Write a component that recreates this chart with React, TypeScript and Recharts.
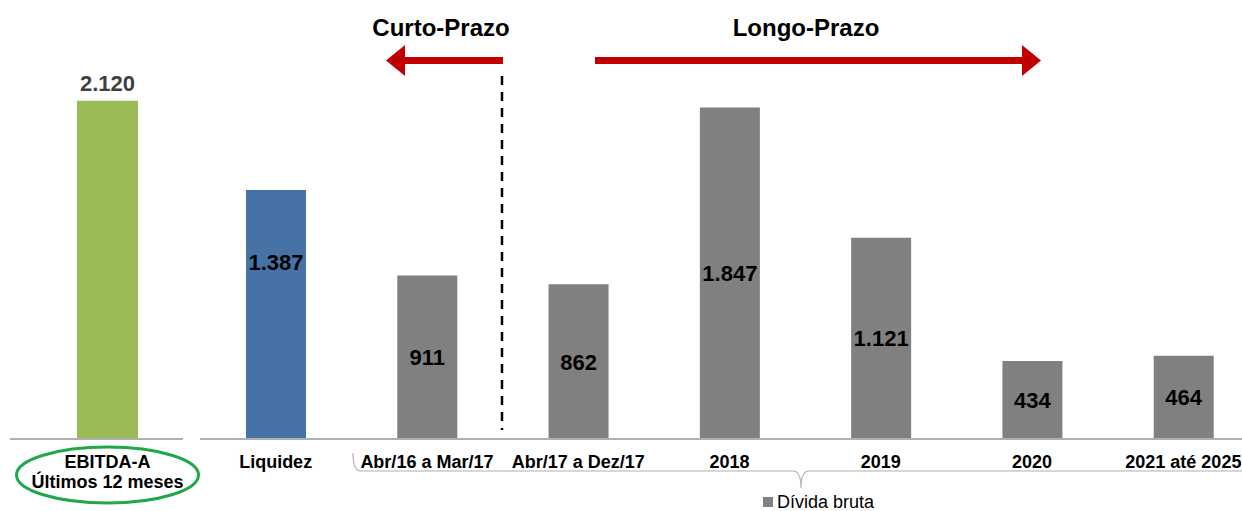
import { BarChart, Bar, XAxis, YAxis, Cell, LabelList } from 'recharts'

const ebitdaCategories = ['EBITDA-A|Últimos 12 meses']
const ebitdaValues = [2120]

const debtCategories = ['Liquidez', 'Abr/16 a Mar/17', 'Abr/17 a Dez/17', '2018', '2019', '2020', '2021 até 2025']
const debtValues = [1387, 911, 862, 1847, 1121, 434, 464]
const debtSeriesName = 'Dívida bruta'

const shortTermLabel = 'Curto-Prazo'
const longTermLabel = 'Longo-Prazo'

const FONT = '"Liberation Sans", Arial, sans-serif'
const GREEN = '#9BBB59'
const BLUE = '#4672A6'
const GRAY = '#808080'
const AXIS = '#B0B0B0'
const RED = '#C00000'

const ebitdaData = ebitdaCategories.map((name, i) => ({ name, value: ebitdaValues[i] }))
const debtData = debtCategories.map((name, i) => ({ name, value: debtValues[i] }))

const fmt = (v: number) => String(v).replace(/\B(?=(\d{3})+(?!\d))/g, '.')

function EbitdaTick({ x, y, payload }: any) {
  const lines = String(payload.value).split('|')
  return (
    <g>
      <ellipse cx={x} cy={y + 36} rx={91} ry={28} fill="none" stroke="#1EA84A" strokeWidth={3} />
      {lines.map((t, i) => (
        <text key={i} x={x} y={y + 29 + i * 20} textAnchor="middle" fontFamily={FONT} fontWeight="bold" fontSize={18} fill="#000">
          {t}
        </text>
      ))}
    </g>
  )
}

function DebtTick({ x, y, payload }: any) {
  return (
    <text x={x} y={y + 29} textAnchor="middle" fontFamily={FONT} fontWeight="bold" fontSize={18} fill="#000">
      {payload.value}
    </text>
  )
}

function DebtLabel({ x, y, width, height, value, index }: any) {
  // the Liquidez value sits in the upper part of its bar
  const cy = index === 0 ? y + height * 0.29 : y + height / 2
  return (
    <text x={x + width / 2} y={cy + 8} textAnchor="middle" fontFamily={FONT} fontWeight="bold" fontSize={22} fill="#000">
      {fmt(value)}
    </text>
  )
}

export default function App() {
  return (
    <div style={{ position: 'absolute', left: 0, top: 0, width: 1242, height: 511, overflow: 'hidden', background: '#fff' }}>
      <div style={{ position: 'absolute', left: 0, top: 0 }}>
        <BarChart width={200} height={511} data={ebitdaData} margin={{ top: 40, right: 17, left: 10, bottom: 0 }}>
          <YAxis hide domain={[0, 2500]} />
          <XAxis
            dataKey="name"
            height={72}
            padding={{ left: 22, right: 0 }}
            axisLine={{ stroke: AXIS, strokeWidth: 2 }}
            tickLine={false}
            tickSize={0}
            tickMargin={0}
            tick={<EbitdaTick />}
            interval={0}
          />
          <Bar dataKey="value" fill={GREEN} barSize={61} isAnimationActive={false}>
            <LabelList
              dataKey="value"
              position="top"
              offset={10}
              formatter={(v: any) => fmt(v)}
              style={{ fontFamily: FONT, fontWeight: 'bold', fontSize: 22, fill: '#3F3F3F' }}
            />
          </Bar>
        </BarChart>
      </div>

      <div style={{ position: 'absolute', left: 0, top: 0 }}>
        <BarChart width={1260} height={511} data={debtData} margin={{ top: 44, right: 1, left: 200, bottom: 0 }}>
          <YAxis hide domain={[0, 2200]} />
          <XAxis
            dataKey="name"
            height={72}
            axisLine={{ stroke: AXIS, strokeWidth: 2 }}
            tickLine={false}
            tickSize={0}
            tickMargin={0}
            tick={<DebtTick />}
            interval={0}
          />
          <Bar dataKey="value" name={debtSeriesName} fill={GRAY} barSize={60} isAnimationActive={false}>
            {debtData.map((d, i) => (
              <Cell key={d.name} fill={i === 0 ? BLUE : GRAY} />
            ))}
            <LabelList dataKey="value" content={<DebtLabel />} />
          </Bar>
        </BarChart>
      </div>

      {/* legend for the debt series */}
      <div
        style={{
          position: 'absolute',
          left: 763,
          top: 492,
          display: 'flex',
          alignItems: 'center',
          fontFamily: FONT,
          fontSize: 18,
          lineHeight: '20px',
          color: '#000',
        }}
      >
        <span style={{ display: 'inline-block', width: 10, height: 10, background: GRAY, marginRight: 4 }} />
        <span>{debtSeriesName}</span>
      </div>

      {/* annotations: prazo arrows, divider and brace */}
      <svg width={1242} height={511} style={{ position: 'absolute', left: 0, top: 0, pointerEvents: 'none' }}>
        <text x={441} y={36} textAnchor="middle" fontFamily={FONT} fontWeight="bold" fontSize={24} fill="#000">
          {shortTermLabel}
        </text>
        <text x={806} y={36} textAnchor="middle" fontFamily={FONT} fontWeight="bold" fontSize={24} fill="#000">
          {longTermLabel}
        </text>
        <rect x={404} y={57} width={99} height={7} fill={RED} />
        <polygon points="386,60.5 405,45 405,76" fill={RED} />
        <rect x={595} y={57} width={428} height={7} fill={RED} />
        <polygon points="1041,60.5 1022,45 1022,76" fill={RED} />
        <line x1={502} y1={76} x2={502} y2={430} stroke="#000" strokeWidth={2.5} strokeDasharray="9 7" />
        <path
          d="M353 453 Q353 471 361 471 L793 471 Q801 471 801 488 Q801 471 809 471 L1242 471"
          fill="none"
          stroke={AXIS}
          strokeWidth={1.2}
        />
      </svg>
    </div>
  )
}
